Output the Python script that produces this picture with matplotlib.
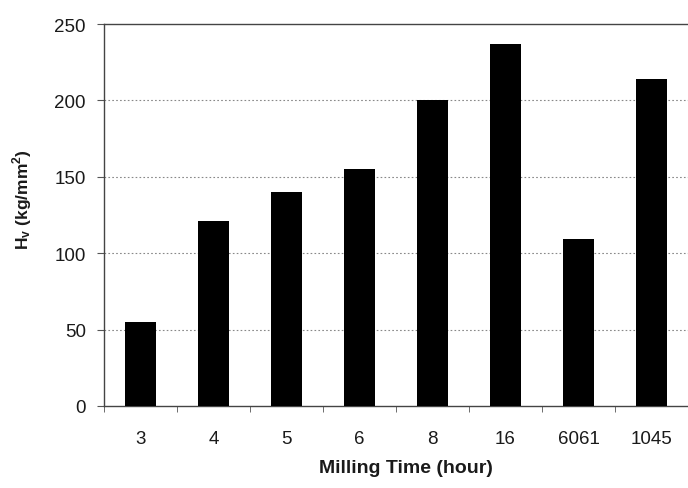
import matplotlib
matplotlib.use("Agg")
import matplotlib.pyplot as plt
import numpy as np
from matplotlib.ticker import FixedLocator

categories = ["3", "4", "5", "6", "8", "16", "6061", "1045"]
hardness = [55, 121, 140, 155, 200, 237, 109, 214]
yticks = [0, 50, 100, 150, 200, 250]

plt.rcParams['font.family'] = ['Liberation Sans', 'DejaVu Sans']
plt.rcParams['mathtext.fontset'] = 'custom'
plt.rcParams['mathtext.rm'] = 'Liberation Sans'
plt.rcParams['mathtext.bf'] = 'Liberation Sans:bold'

fig = plt.figure(figsize=(6.88, 4.89), dpi=100)
ax = fig.add_axes([104/688, 1-407/489, 1-104/688, (407-25)/489])

x = np.arange(len(categories))
ax.bar(x, hardness, width=0.42, color='black', zorder=3)
ax.set_xlim(-0.5, len(categories)-0.5)
ax.set_ylim(0, 250)
ax.set_yticks(yticks)
ax.set_xticks(x)
ax.set_xticklabels(categories)
ax.xaxis.set_minor_locator(FixedLocator(np.arange(-0.5, len(categories), 1.0)))
ax.tick_params(axis='x', which='major', length=0, labelsize=13.5, pad=17, labelcolor='#1a1a1a')
ax.tick_params(axis='x', which='minor', length=4, direction='out', color='#555555')
ax.tick_params(axis='y', length=5, direction='out', labelsize=13.5, pad=8,
               color='#555555', labelcolor='#1a1a1a')

for v in yticks[1:-1]:
    ax.axhline(v, color='#888888', linestyle=(0, (1.5, 2)), linewidth=0.8, zorder=1)

for s in ['left', 'top', 'bottom']:
    ax.spines[s].set_color('#444444')
    ax.spines[s].set_linewidth(1.0)
ax.spines['right'].set_visible(False)

ax.set_xlabel("Milling Time (hour)", fontsize=14, fontweight='bold', color='#1a1a1a')
ax.xaxis.set_label_coords((406-104)/584, (407-460)/382)
ax.set_ylabel(r"$\mathbf{H_v}$ (kg/mm$^\mathbf{2}$)", fontsize=12.5, fontweight='bold', color='#1a1a1a')
ax.yaxis.set_label_coords((34-104)/584, (407-200)/382)

fig.savefig("out.png", dpi=100)
